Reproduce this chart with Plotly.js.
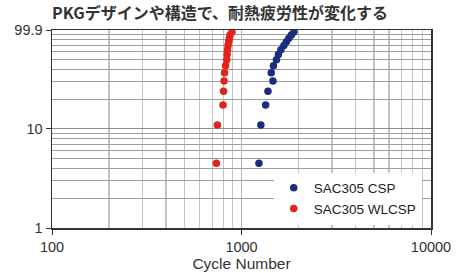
<!DOCTYPE html>
<html>
<head>
<meta charset="utf-8">
<script src="https://cdn.plot.ly/plotly-3.0.1.min.js"></script>
<style>html,body{margin:0;padding:0;background:#fff}#chart{width:468px;height:273px}</style>
</head>
<body>
<div id="chart"></div>
<script>
// Cumulative failure (%) – median ranks for 15 samples
const failurePct = [4.5, 11.0, 17.5, 24.0, 30.5, 37.0, 43.5, 50.0, 56.5, 63.0, 69.5, 76.0, 82.5, 89.0, 95.5];
// Cycles to failure
const cspCycles   = [1236, 1265, 1341, 1379, 1465, 1435, 1474, 1529, 1566, 1614, 1674, 1725, 1778, 1833, 1890];
const wlcspCycles = [737, 746, 799, 804, 809, 814, 824, 836, 839, 844, 849, 856, 863, 870, 891];
const seriesNames = ["SAC305 CSP", "SAC305 WLCSP"];
const xTickVals = [100, 1000, 10000];
const xTickText = ["100", "1000", "10000"];
const xMinorVals = [200,300,400,500,600,700,800,900,2000,3000,4000,5000,6000,7000,8000,9000];
const yTickVals = [1, 10, 99.9];
const yTickText = ["1", "10", "99.9"];
const yMinorVals = [2,3,4,5,6,7,8,9,20,30,40,50,60,70,80,90];

const font = "Liberation Sans, Arial, sans-serif";
const traces = [
  {x: cspCycles, y: failurePct, name: seriesNames[0], type: "scatter", mode: "markers",
   marker: {color: "#1c2d7c", size: 7.5}},
  {x: wlcspCycles, y: failurePct, name: seriesNames[1], type: "scatter", mode: "markers",
   marker: {color: "#e2231a", size: 7.5}}
];
const layout = {
  width: 468, height: 273,
  margin: {l: 52, r: 37, t: 30, b: 45},
  paper_bgcolor: "#fff", plot_bgcolor: "#fff",
  font: {family: font, size: 14, color: "#333"},
  title: {text: "<b>PKGデザインや構造で、耐熱疲労性が変化する</b>",
          font: {family: "Noto Sans CJK JP, sans-serif", size: 16, color: "#333"},
          x: 0, xref: "paper", xanchor: "left", y: 0.952, yref: "container", yanchor: "middle"},
  xaxis: {type: "log", range: [2, 4], tickmode: "array", tickvals: xTickVals, ticktext: xTickText,
          ticks: "outside", ticklen: 5, tickcolor: "#333", showline: true, linecolor: "#333", linewidth: 1.5,
          mirror: true, showgrid: true, gridcolor: "#b5b5b5", gridwidth: 1.2, zeroline: false,
          minor: {tickmode: "array", tickvals: xMinorVals, showgrid: true, gridcolor: "#c4c4c4", gridwidth: 1.2, ticks: ""},
          title: {text: "Cycle Number", font: {family: font, size: 15.5, color: "#333"}, standoff: 4},
          tickfont: {family: font, size: 14.5, color: "#333"}},
  yaxis: {type: "log", range: [0, Math.log10(99.9)], tickmode: "array", tickvals: yTickVals, ticktext: yTickText,
          ticks: "outside", ticklen: 5, tickcolor: "#333", showline: true, linecolor: "#333", linewidth: 1.5,
          mirror: true, showgrid: true, gridcolor: "#8f8f8f", gridwidth: 1, zeroline: false,
          minor: {tickmode: "array", tickvals: yMinorVals, showgrid: true, gridcolor: "#9e9e9e", gridwidth: 1, ticks: ""},
          tickfont: {family: font, size: 14.5, color: "#333"}},
  showlegend: true,
  legend: {x: 0.585, y: 0.28, xanchor: "left", yanchor: "top", bgcolor: "#fff", borderwidth: 0,
           font: {family: font, size: 13.5, color: "#222"}, itemwidth: 30, tracegroupgap: 0}
};
Plotly.newPlot("chart", traces, layout, {displayModeBar: false, staticPlot: true});
</script>
</body>
</html>
